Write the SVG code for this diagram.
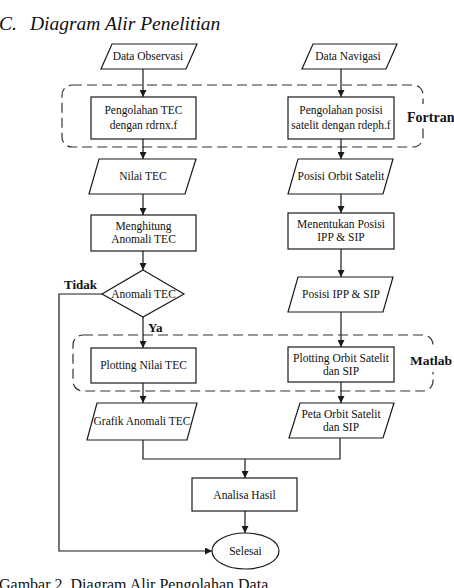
<svg xmlns="http://www.w3.org/2000/svg" width="454" height="588" viewBox="0 0 454 588">
  <defs>
    <marker id="arrow" viewBox="0 0 10 10" refX="10" refY="5" markerWidth="7" markerHeight="7" markerUnits="userSpaceOnUse" orient="auto">
      <path d="M0,0 L10,5 L0,10 Z" fill="#1a1a1a"/>
    </marker>
  </defs>
  <style>
    .shape { fill: #ffffff; stroke: #1a1a1a; stroke-width: 1.2; }
    .group { fill: none; stroke: #333333; stroke-width: 1.2; stroke-dasharray: 10 5; }
    .conn { fill: none; stroke: #1a1a1a; stroke-width: 1.2; }
    .arr { marker-end: url(#arrow); }
    .t { font-family: 'Liberation Serif', 'Times New Roman', serif; font-size: 11.5px; fill: #111111; text-anchor: middle; }
    .lbl { font-family: 'Liberation Serif', 'Times New Roman', serif; font-weight: bold; fill: #111111; }
    .head { font-family: 'Liberation Serif', 'Times New Roman', serif; font-style: italic; font-size: 19.5px; fill: #111111; }
    .cap { font-family: 'Liberation Serif', 'Times New Roman', serif; font-size: 16px; fill: #111111; }
  </style>

  <!-- heading -->
  <text class="head" x="-1" y="30">C.</text>
  <text class="head" x="30" y="30">Diagram Alir Penelitian</text>

  <!-- tool groupings; the label masks part of the dashed border -->
  <g id="group-fortran">
    <rect class="group" x="62" y="85" width="361" height="62" rx="10"/>
    <rect x="405" y="104" width="49" height="24" fill="#ffffff"/>
    <text class="lbl" x="407" y="122" font-size="14">Fortran</text>
  </g>
  <g id="group-matlab">
    <rect class="group" x="73" y="335" width="360" height="56" rx="10"/>
    <rect x="407" y="349" width="47" height="23" fill="#ffffff"/>
    <text class="lbl" x="410" y="365" font-size="13.5">Matlab</text>
  </g>

  <!-- connectors -->
  <g id="connectors">
    <line class="conn arr" x1="143" y1="69" x2="143" y2="97"/>
    <line class="conn arr" x1="341" y1="69" x2="341" y2="97"/>
    <line class="conn arr" x1="143" y1="139" x2="143" y2="159"/>
    <line class="conn arr" x1="341" y1="139" x2="341" y2="159"/>
    <line class="conn arr" x1="143" y1="194" x2="143" y2="215"/>
    <line class="conn arr" x1="341" y1="194" x2="341" y2="213"/>
    <line class="conn arr" x1="143" y1="251" x2="143" y2="270"/>
    <line class="conn arr" x1="341" y1="249" x2="341" y2="277"/>
    <line class="conn arr" x1="143" y1="317" x2="143" y2="348"/>
    <line class="conn arr" x1="341" y1="312" x2="341" y2="347"/>
    <line class="conn arr" x1="143" y1="383" x2="143" y2="403"/>
    <line class="conn arr" x1="341" y1="382" x2="341" y2="403"/>
    <polyline class="conn" points="143,440 143,459 340,459 340,438"/>
    <line class="conn arr" x1="245" y1="459" x2="245" y2="478"/>
    <line class="conn arr" x1="245" y1="511" x2="245" y2="533"/>
    <polyline class="conn arr" points="102,294 59,294 59,551 212,551"/>
    <text class="lbl" x="64" y="289" font-size="13">Tidak</text>
    <text class="lbl" x="148" y="332" font-size="13">Ya</text>
  </g>

  <!-- left column -->
  <g id="data-observasi">
    <polygon class="shape" points="112,44 197,44 186,69 101,69"/>
    <text class="t" x="148" y="60">Data Observasi</text>
  </g>
  <g id="pengolahan-tec">
    <rect class="shape" x="91" y="97" width="105" height="42"/>
    <text class="t" x="143.5" y="114">Pengolahan TEC</text>
    <text class="t" x="143.5" y="129">dengan rdrnx.f</text>
  </g>
  <g id="nilai-tec">
    <polygon class="shape" points="99,159 196,159 185,194 89,194"/>
    <text class="t" x="143" y="180">Nilai TEC</text>
  </g>
  <g id="menghitung-anomali">
    <rect class="shape" x="91" y="215" width="105" height="36"/>
    <text class="t" x="143.5" y="229.5">Menghitung</text>
    <text class="t" x="143.5" y="242.5">Anomali TEC</text>
  </g>
  <g id="anomali-tec">
    <polygon class="shape" points="143,270 184,294 143,317 102,294"/>
    <text class="t" x="143.5" y="298">Anomali TEC</text>
  </g>
  <g id="plotting-nilai-tec">
    <rect class="shape" x="91" y="348" width="105" height="35"/>
    <text class="t" x="143.5" y="369">Plotting Nilai TEC</text>
  </g>
  <g id="grafik-anomali">
    <polygon class="shape" points="97,403 197,403 187,440 87,440"/>
    <text class="t" x="142" y="425">Grafik Anomali TEC</text>
  </g>

  <!-- right column -->
  <g id="data-navigasi">
    <polygon class="shape" points="313,44 397,44 386,69 302,69"/>
    <text class="t" x="348" y="60">Data Navigasi</text>
  </g>
  <g id="pengolahan-posisi">
    <rect class="shape" x="288" y="97" width="106" height="42"/>
    <text class="t" x="341" y="114">Pengolahan posisi</text>
    <text class="t" x="341" y="129">satelit dengan rdeph.f</text>
  </g>
  <g id="posisi-orbit">
    <polygon class="shape" points="298,159 393,159 383,194 288,194"/>
    <text class="t" x="341" y="180">Posisi Orbit Satelit</text>
  </g>
  <g id="menentukan-posisi">
    <rect class="shape" x="288" y="213" width="106" height="36"/>
    <text class="t" x="341" y="228">Menentukan Posisi</text>
    <text class="t" x="341" y="241">IPP &amp; SIP</text>
  </g>
  <g id="posisi-ipp-sip">
    <polygon class="shape" points="298,277 393,277 383,312 288,312"/>
    <text class="t" x="341" y="298">Posisi IPP &amp; SIP</text>
  </g>
  <g id="plotting-orbit">
    <rect class="shape" x="288" y="347" width="106" height="35"/>
    <text class="t" x="341" y="362">Plotting Orbit Satelit</text>
    <text class="t" x="341" y="375">dan SIP</text>
  </g>
  <g id="peta-orbit">
    <polygon class="shape" points="300,403 394,403 383,438 289,438"/>
    <text class="t" x="341" y="418">Peta Orbit Satelit</text>
    <text class="t" x="341" y="431">dan SIP</text>
  </g>

  <!-- merge and end -->
  <g id="analisa-hasil">
    <rect class="shape" x="192" y="478" width="105" height="33"/>
    <text class="t" x="244.5" y="498.5">Analisa Hasil</text>
  </g>
  <g id="selesai">
    <ellipse class="shape" cx="245.5" cy="551" rx="33.5" ry="18"/>
    <text class="t" x="245.5" y="555">Selesai</text>
  </g>

  <!-- caption -->
  <text class="cap" x="-1" y="590">Gambar 2. Diagram Alir Pengolahan Data.</text>
</svg>
